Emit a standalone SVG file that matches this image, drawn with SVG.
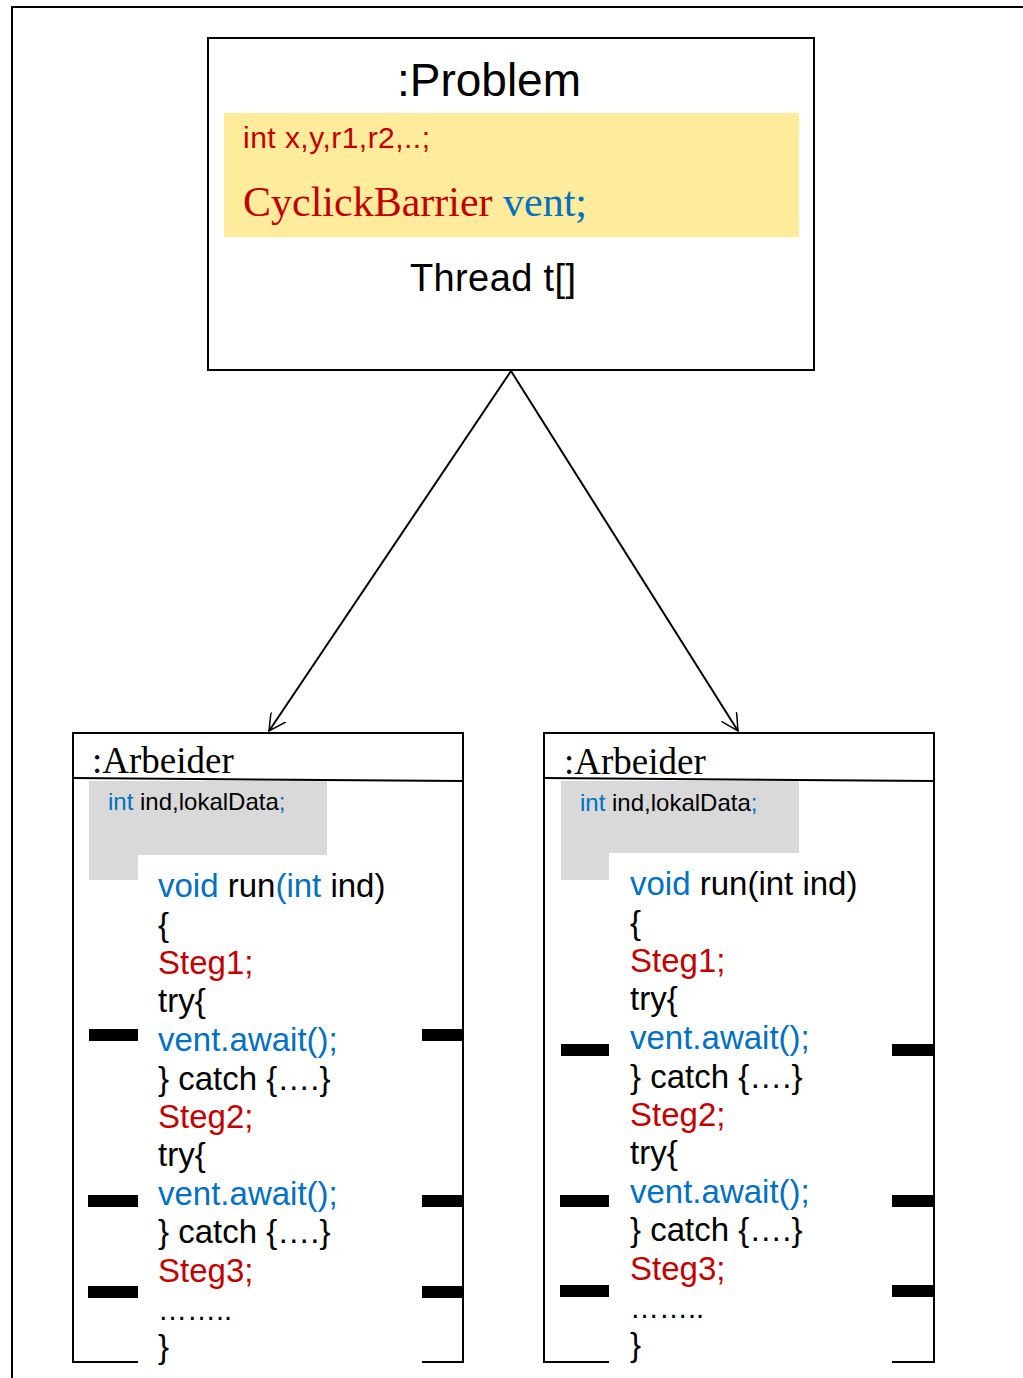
<svg xmlns="http://www.w3.org/2000/svg" width="1023" height="1378" viewBox="0 0 1023 1378">
<defs>
<style>
.box{fill:#fff;stroke:#000;stroke-width:2}
.ln{fill:none;stroke:#000;stroke-width:2}
.sans{font-family:"Liberation Sans",Arial,sans-serif}
.serif{font-family:"Liberation Serif","Times New Roman",serif}
.red{fill:#c00000}
.blue{fill:#0070c0}
.blk{fill:#000}
.code{font-family:"Liberation Sans",Arial,sans-serif;font-size:33px}
.dots{font-size:29px}
.gray{fill:#d9d9d9}
.bar{fill:#000}
</style>
<marker id="arr" viewBox="0 0 18 18" refX="17" refY="9" markerWidth="18" markerHeight="18" markerUnits="userSpaceOnUse" orient="auto">
<path d="M0,0 L17,9 L0,18" fill="none" stroke="#000" stroke-width="1.5"/>
</marker>
</defs>
<rect width="1023" height="1378" fill="#fff"/>
<path class="ln" d="M12,1378 V7 H1023"/>

<g id="problem">
<rect class="box" x="208" y="38" width="606" height="332"/>
<rect x="224" y="113" width="575" height="124" fill="#ffeb9c"/>
<text class="sans" x="489" y="96" font-size="46" text-anchor="middle">:Problem</text>
<text class="sans red" x="243" y="148" font-size="30" textLength="187">int x,y,r1,r2,..;</text>
<text class="serif" x="243" y="216" font-size="42"><tspan class="red">CyclickBarrier </tspan><tspan class="blue">vent;</tspan></text>
<text class="sans" x="410" y="291" font-size="38" textLength="166">Thread t[]</text>
</g>

<g id="connectors">
<line class="ln" x1="511" y1="371" x2="269" y2="731" stroke-width="1.5" marker-end="url(#arr)"/>
<line class="ln" x1="511" y1="371" x2="738" y2="731" stroke-width="1.5" marker-end="url(#arr)"/>
</g>

<g id="arbeider1">
<path class="ln" d="M138,1362 H73 V733 H463 V1362 H422"/>
<line class="ln" x1="73" y1="778" x2="463" y2="781"/>
<path class="gray" d="M89,781 H327 V855 H138 V880 H89 Z"/>
<text class="serif" x="92" y="773" font-size="37">:Arbeider</text>
<text class="sans" x="108" y="810" font-size="24"><tspan class="blue">int</tspan> ind,lokalData<tspan class="blue">;</tspan></text>
<g class="code">
<text x="158" y="897"><tspan class="blue">void</tspan> run<tspan class="blue">(int</tspan> ind)</text>
<text x="158" y="936">{</text>
<text x="158" y="974" class="red">Steg1;</text>
<text x="158" y="1012">try{</text>
<text x="158" y="1051" class="blue">vent.await();</text>
<text x="158" y="1090">} catch {….}</text>
<text x="158" y="1128" class="red">Steg2;</text>
<text x="158" y="1166">try{</text>
<text x="158" y="1205" class="blue">vent.await();</text>
<text x="158" y="1243">} catch {….}</text>
<text x="158" y="1282" class="red">Steg3;</text>
<text x="158" y="1320" class="dots">……..</text>
<text x="158" y="1358">}</text>
</g>
<rect class="bar" x="89" y="1029" width="49" height="12"/>
<rect class="bar" x="422" y="1029" width="41" height="12"/>
<rect class="bar" x="88" y="1195" width="50" height="12"/>
<rect class="bar" x="422" y="1195" width="41" height="12"/>
<rect class="bar" x="88" y="1286" width="50" height="12"/>
<rect class="bar" x="422" y="1286" width="41" height="12"/>
</g>

<g id="arbeider2">
<path class="ln" d="M609,1362 H544 V733 H934 V1362 H892"/>
<line class="ln" x1="544" y1="778" x2="934" y2="781"/>
<path class="gray" d="M561,781 H799 V853 H609 V880 H561 Z"/>
<text class="serif" x="564" y="774" font-size="37">:Arbeider</text>
<text class="sans" x="580" y="811" font-size="24"><tspan class="blue">int</tspan> ind,lokalData<tspan class="blue">;</tspan></text>
<g class="code">
<text x="630" y="895"><tspan class="blue">void</tspan> run(int ind)</text>
<text x="630" y="934">{</text>
<text x="630" y="972" class="red">Steg1;</text>
<text x="630" y="1010">try{</text>
<text x="630" y="1049" class="blue">vent.await();</text>
<text x="630" y="1088">} catch {….}</text>
<text x="630" y="1126" class="red">Steg2;</text>
<text x="630" y="1164">try{</text>
<text x="630" y="1203" class="blue">vent.await();</text>
<text x="630" y="1241">} catch {….}</text>
<text x="630" y="1280" class="red">Steg3;</text>
<text x="630" y="1318" class="dots">……..</text>
<text x="630" y="1356">}</text>
</g>
<rect class="bar" x="561" y="1044" width="48" height="12"/>
<rect class="bar" x="892" y="1044" width="42" height="12"/>
<rect class="bar" x="560" y="1195" width="49" height="12"/>
<rect class="bar" x="892" y="1195" width="42" height="12"/>
<rect class="bar" x="560" y="1285" width="49" height="12"/>
<rect class="bar" x="892" y="1285" width="42" height="12"/>
</g>
</svg>
